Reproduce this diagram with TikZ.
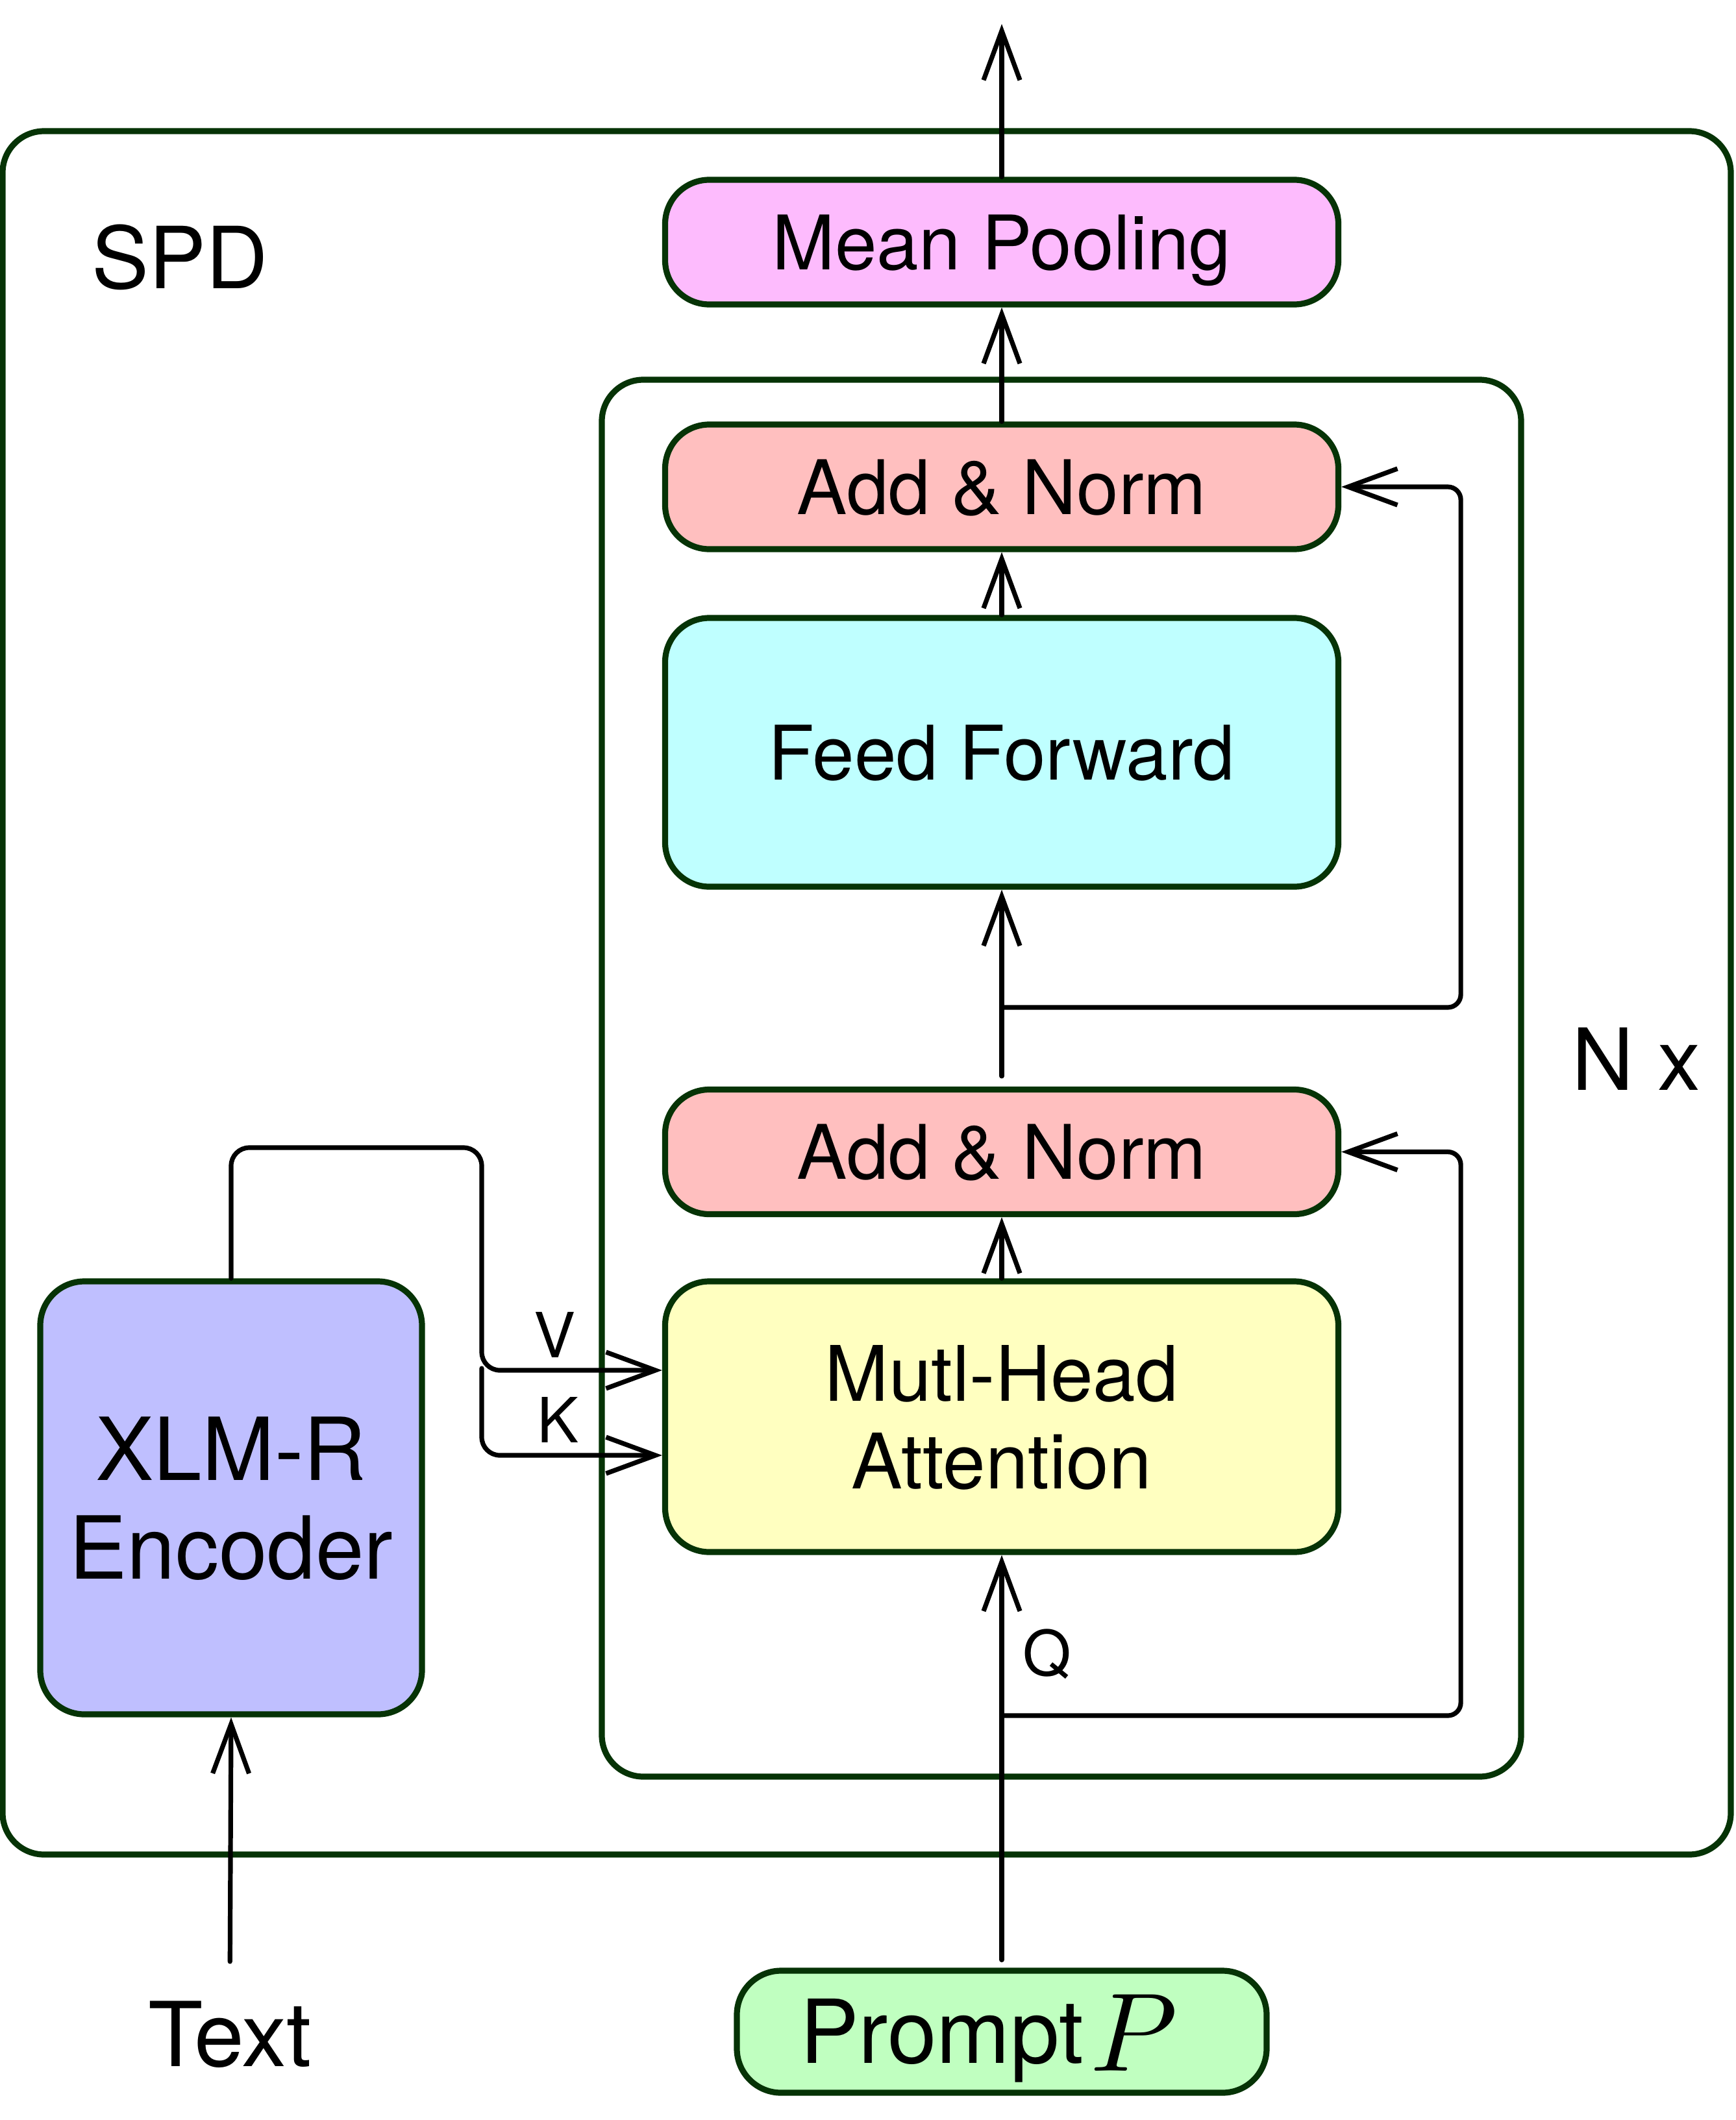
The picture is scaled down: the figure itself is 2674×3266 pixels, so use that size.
\documentclass[tikz,border=0pt]{standalone}
\usepackage{graphicx}
\usepackage{fontspec}
\setmainfont{TeX Gyre Heros}
\usetikzlibrary{arrows.meta,calc}
\definecolor{bord}{RGB}{6,51,6}
\definecolor{cpool}{RGB}{253,187,253}
\definecolor{cnorm}{RGB}{255,191,191}
\definecolor{cff}{RGB}{191,255,255}
\definecolor{cmha}{RGB}{255,255,192}
\definecolor{cxlm}{RGB}{191,191,255}
\definecolor{cprompt}{RGB}{192,255,192}
\begin{document}
\begin{tikzpicture}[x=0.25pt,y=-0.25pt,
  box/.style={draw=bord,line width=2.3pt,rounded corners=17pt,inner sep=0pt,
    font=\fontsize{29}{34}\selectfont,align=center,text depth=0pt},
  frame/.style={draw=bord,line width=2.3pt,rounded corners=16pt,inner sep=0pt},
  conn/.style={line width=1.8pt,line cap=round,rounded corners=5pt,
    -{Straight Barb[length=19pt,width=14pt,line width=1.8pt]}},
  lbl/.style={inner sep=0pt,font=\fontsize{24}{28}\selectfont},
  big/.style={inner sep=0pt,font=\fontsize{33}{38}\selectfont}]
\useasboundingbox (0,0) rectangle (2674,3266);
\fill[white] (0,0) rectangle (2674,3266);

% containers
\node[frame,minimum width=665.5pt,minimum height=663.75pt] (spdbox) at (1335,1529.5) {};
\node[frame,minimum width=354pt,minimum height=538pt] (nxbox) at (1635,1661) {};

% boxes
\node[box,fill=cpool,minimum width=259.25pt,minimum height=48pt] (mp) at (1543,373) {Mean Pooling};
\node[box,fill=cnorm,minimum width=259.25pt,minimum height=48pt] (an2) at (1543,750) {Add \& Norm};
\node[box,fill=cff,minimum width=259.25pt,minimum height=103.5pt] (ff) at (1543,1159) {Feed Forward};
\node[box,fill=cnorm,minimum width=259.25pt,minimum height=48pt] (an1) at (1543,1774.5) {Add \& Norm};
\node[box,fill=cmha,minimum width=259.25pt,minimum height=104.25pt,
  font=\fontsize{29.5}{33.75}\selectfont] (mha) at (1543,2182.5) {Mutl-Head\\Attention};
\node[box,fill=cxlm,minimum width=147pt,minimum height=166.75pt,
  font=\fontsize{33.5}{38}\selectfont] (xlm) at (356,2307.5) {XLM-R\\Encoder};
\node[box,fill=cprompt,minimum width=204pt,minimum height=47pt,
  font=\fontsize{34}{38}\selectfont,text height=24.4pt] (prompt) at (1543,3130)
  {\hspace*{-5pt}Prompt\hspace{2.5pt}\raisebox{-3pt}{\fontsize{10}{10}\selectfont\scalebox{4.3}{$P$}}\hspace*{5pt}};

% free labels
\node[big] (spd) at (277,396) {SPD};
\node[big] (nx) at (2520,1631) {N x};
\node[big,font=\fontsize{34.5}{38}\selectfont] (txt) at (354,3134) {Text};
\node[lbl] (vl) at (855,2056) {V};
\node[lbl] (kl) at (860,2187) {K};
\node[lbl] (ql) at (1613,2548) {Q};

% coordinates
\coordinate (top) at (1543,37);
\coordinate (j1) at (1543,1552);
\coordinate (j2) at (1543,2643);
\coordinate (vtop) at (742,1768);
\coordinate (vk) at (742,2111);
\coordinate (ks) at (742,2108);
\coordinate (kk) at (742,2242);

% main column
\draw[conn] (mp.north) -- (top);
\draw[conn] (an2.north) -- (mp.south);
\draw[conn] (ff.north) -- (an2.south);
\draw[conn,shorten <=4pt] (an1.north) -- (ff.south);
\draw[conn] (mha.north) -- (an1.south);
\draw[conn,shorten <=3pt] (prompt.north) -- (mha.south);
\draw[conn,shorten <=15pt] (txt.north) -- (xlm.south);

% residuals
\draw[conn] (j1) -| ([xshift=46pt]an2.east) -- (an2.east);
\draw[conn] (j2) -| ([xshift=46pt]an1.east) -- (an1.east);

% V and K
\draw[conn,rounded corners=7pt] (xlm.north) |- (vtop) -- (vk) -- (vk -| mha.west);
\draw[conn,rounded corners=7pt] (ks) -- (kk) -- (kk -| mha.west);
\end{tikzpicture}
\end{document}
